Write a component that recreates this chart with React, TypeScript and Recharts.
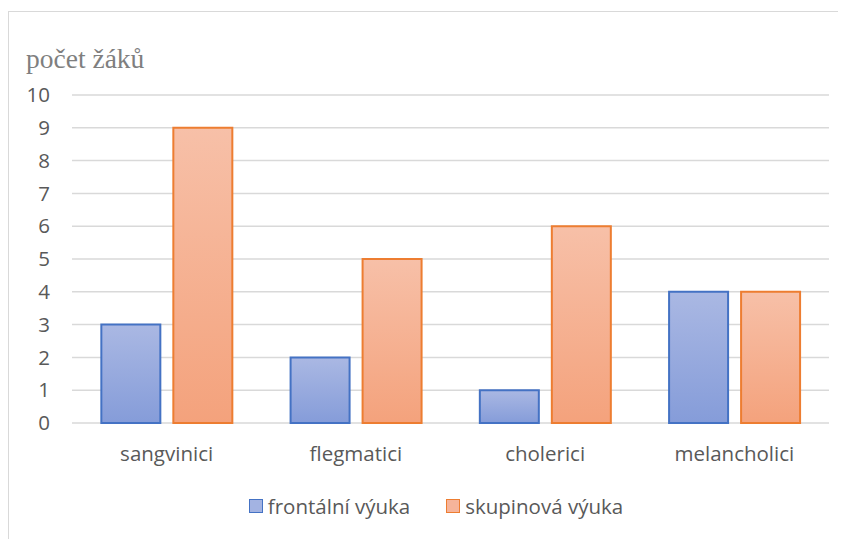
import { Bar, BarChart, CartesianGrid, Legend, XAxis, YAxis } from "recharts";

const categories = ["sangvinici", "flegmatici", "cholerici", "melancholici"];
const frontalni = [3, 2, 1, 4];
const skupinova = [9, 5, 6, 4];
const yTicks = [0, 1, 2, 3, 4, 5, 6, 7, 8, 9, 10];

const data = categories.map((name, i) => ({
  name,
  frontalni: frontalni[i],
  skupinova: skupinova[i],
}));

const FONT = "'Open Sans', sans-serif";

function LegendContent() {
  const items = [
    { label: "frontální výuka", fill: "#A3B3E2", stroke: "#4472C4" },
    { label: "skupinová výuka", fill: "#F6B49A", stroke: "#ED7D31" },
  ];
  return (
    <div style={{ display: "flex", justifyContent: "center", gap: 36, fontFamily: FONT, fontSize: 20.5, color: "#595959", paddingLeft: 34 }}>
      {items.map((it) => (
        <div key={it.label} style={{ display: "flex", alignItems: "center", gap: 5 }}>
          <span style={{ width: 12, height: 12, background: it.fill, border: `1.5px solid ${it.stroke}`, display: "inline-block" }} />
          <span>{it.label}</span>
        </div>
      ))}
    </div>
  );
}

export default function App() {
  return (
    <div
      style={{
        position: "relative",
        marginTop: 3,
        width: 838,
        height: 528,
        borderTop: "1px solid #d9d9d9",
        borderLeft: "1px solid #d9d9d9",
        background: "#fff",
      }}
    >
      <div
        style={{
          position: "absolute",
          left: 17,
          top: 31,
          fontFamily: "'Liberation Serif', serif",
          fontSize: 27.5,
          color: "#7f7f7f",
        }}
      >
        počet žáků
      </div>
      <BarChart
        width={837}
        height={527}
        data={data}
        margin={{ top: 83, right: 17, left: 0, bottom: 15 }}
        barCategoryGap="15.5%"
        barGap={13}
      >
        <defs>
          <linearGradient id="gBlue" x1="0" y1="0" x2="0" y2="1">
            <stop offset="0%" stopColor="#AAB8E3" />
            <stop offset="100%" stopColor="#859CD9" />
          </linearGradient>
          <linearGradient id="gOrange" x1="0" y1="0" x2="0" y2="1">
            <stop offset="0%" stopColor="#F7C0A8" />
            <stop offset="100%" stopColor="#F4A27C" />
          </linearGradient>
        </defs>
        <CartesianGrid vertical={false} stroke="#d9d9d9" strokeWidth={1.5} />
        <XAxis
          dataKey="name"
          height={69}
          axisLine={false}
          tickLine={false}
          tickMargin={17}
          tick={{ fill: "#595959", fontSize: 20.5, fontFamily: FONT }}
        />
        <YAxis
          width={63}
          domain={[0, 10]}
          ticks={yTicks}
          interval={0}
          axisLine={false}
          tickLine={false}
          tickMargin={16}
          tick={{ fill: "#595959", fontSize: 20.5, fontFamily: FONT }}
        />
        <Legend verticalAlign="bottom" height={32} content={<LegendContent />} />
        <Bar dataKey="frontalni" name="frontální výuka" fill="url(#gBlue)" stroke="#4472C4" strokeWidth={2} isAnimationActive={false} />
        <Bar dataKey="skupinova" name="skupinová výuka" fill="url(#gOrange)" stroke="#ED7D31" strokeWidth={2} isAnimationActive={false} />
      </BarChart>
    </div>
  );
}
